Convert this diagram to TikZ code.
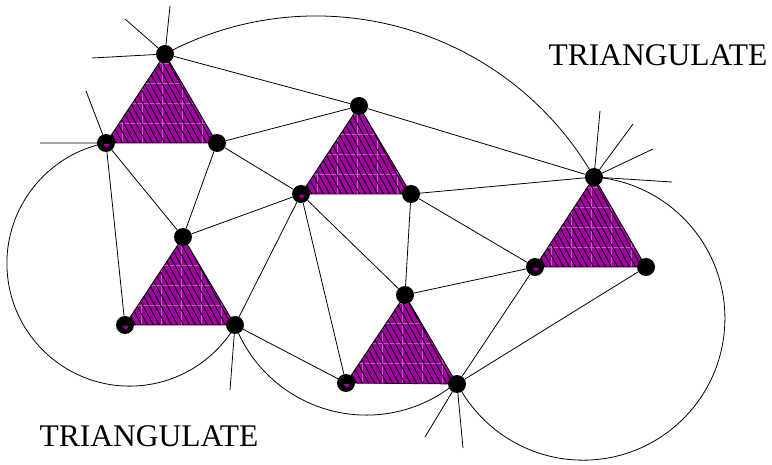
\documentclass[tikz,border=0pt]{standalone}
\usepackage{fontspec}
\setmainfont{Liberation Serif}
\pgfdeclarelayer{bg}
\pgfsetlayers{bg,main}
\definecolor{tricol}{RGB}{160,0,160}
\definecolor{gridcol}{RGB}{200,90,200}
\tikzset{
 dot/.style={circle,fill=black,minimum size=18pt,inner sep=0pt},
 edge/.style={line width=0.8pt},
 hatch/.style={line width=0.85pt,black},
 gridl/.style={line width=0.4pt,gridcol},
 lbl/.style={font=\fontsize{31.5}{37}\selectfont,inner sep=0pt}
}
\newcommand\hatchtri[3]{%
 \begin{scope}
 \clip (#1.center) -- (#2.center) -- (#3.center) -- cycle;
 \fill[tricol] (#2.center) ++(-5,5) rectangle ++(125,-105);
 \foreach \k in {1,...,5} \draw[gridl] (#2.center) ++(\k*20-4,5) -- ++(0,-105);
 \foreach \k in {1,...,4} \draw[gridl] (#2.center) ++(-5,-\k*20) -- ++(125,0);
 \foreach \k in {0,...,23} \draw[hatch] (#2.center) ++(\k*6-62,-100) -- ++(60,110);
 \end{scope}
 \draw[edge] (#1.center) -- (#2.center) -- (#3.center) -- cycle;
}
\newcommand\cornermark[1]{\fill[tricol] (#1.center) ++(-3,1) -- ++(7,0) -- ++(-3,4) -- cycle;}
\begin{document}
\begin{tikzpicture}[x=1pt,y=-1pt]
\useasboundingbox (0,0) rectangle (772,465);
% vertices
\node[dot] (t1t) at (165,54) {};
\node[dot] (t1l) at (106,143) {};
\node[dot] (t1r) at (217,143) {};
\node[dot] (t2t) at (359,106) {};
\node[dot] (t2l) at (301,194) {};
\node[dot] (t2r) at (411,194) {};
\node[dot] (t3t) at (183,237) {};
\node[dot] (t3l) at (125,325) {};
\node[dot] (t3r) at (235,325) {};
\node[dot] (t4t) at (405,295) {};
\node[dot] (t4l) at (346,383) {};
\node[dot] (t4r) at (457,384) {};
\node[dot] (t5t) at (594,177) {};
\node[dot] (t5l) at (535,267) {};
\node[dot] (t5r) at (646,267) {};
% free ends
\coordinate (s1) at (170,6);
\coordinate (s2) at (125,19);
\coordinate (s3) at (92,58);
\coordinate (s4) at (86,91);
\coordinate (s5) at (40,143);
\coordinate (s6) at (600,111);
\coordinate (s7) at (633,124);
\coordinate (s8) at (653,149);
\coordinate (s9) at (672,182);
\coordinate (s10) at (230,390);
\coordinate (s11) at (425,437);
\coordinate (s12) at (463,448);
\begin{pgfonlayer}{bg}
\draw[edge] (t1t) -- (t2t) (t1r) -- (t2t) (t1r) -- (t3t) (t1r) -- (t2l)
  (t1l) -- (t3l) (t1l) -- (t3t) (t3t) -- (t2l) (t2l) -- (t3r) (t2l) -- (t4l)
  (t2l) -- (t4t) (t2t) -- (t5t) (t2r) -- (t5t) (t2r) -- (t4t) (t2r) -- (t5l)
  (t4t) -- (t5l) (t5l) -- (t4r) (t5r) -- (t4r) (t3r) -- (t4l);
\draw[edge] (t1t) -- (s1) (t1t) -- (s2) (t1t) -- (s3) (t1l) -- (s4) (t1l) -- (s5)
  (t5t) -- (s6) (t5t) -- (s7) (t5t) -- (s8) (t5t) -- (s9) (t3r) -- (s10)
  (t4r) -- (s11) (t4r) -- (s12);
\draw[edge] (t1t.center) arc[start angle=-118.2,end angle=-29.8,radius=320];
\draw[edge] (t1l.center) arc[start angle=258.9,end angle=30.1,radius=122.7];
\draw[edge] (t3r.center) arc[start angle=158.9,end angle=50.5,radius=140.8];
\draw[edge] (t5t.center) arc[start angle=-85.6,end angle=152.9,radius=141.8];
\hatchtri{t1t}{t1l}{t1r}
\hatchtri{t2t}{t2l}{t2r}
\hatchtri{t3t}{t3l}{t3r}
\hatchtri{t4t}{t4l}{t4r}
\hatchtri{t5t}{t5l}{t5r}
\end{pgfonlayer}
\cornermark{t1l}
\cornermark{t2l}
\cornermark{t3l}
\cornermark{t4l}
\cornermark{t5l}
\node[lbl] (lab1) at (658,55) {TRIANGULATE};
\node[lbl] (lab2) at (149,436) {TRIANGULATE};
\end{tikzpicture}
\end{document}
